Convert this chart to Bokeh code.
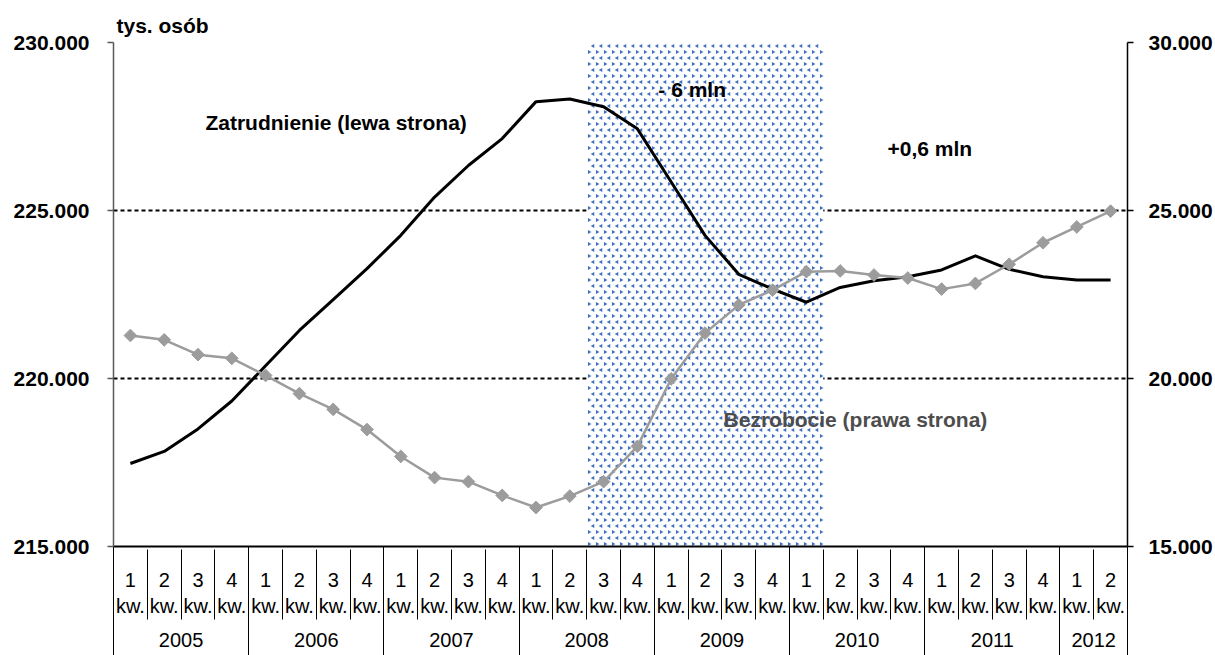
import numpy as np
from bokeh.plotting import figure
from bokeh.models import Range1d, LinearAxis, FixedTicker, Grid
from bokeh.core.properties import value
from bokeh.embed import file_html
from bokeh.resources import INLINE

# --- data -------------------------------------------------------------
years = ["2005", "2006", "2007", "2008", "2009", "2010", "2011", "2012"]
quarters_per_year = [4, 4, 4, 4, 4, 4, 4, 2]
quarter_labels = ["1\nkw.", "2\nkw.", "3\nkw.", "4\nkw."] * 7 + ["1\nkw.", "2\nkw."]

# employment, thousands of persons (left axis)
employment = [217470, 217830, 218500, 219330, 220380, 221430, 222350, 223270,
              224260, 225400, 226340, 227140, 228240, 228320, 228090, 227430,
              225850, 224260, 223100, 222660, 222270, 222710, 222910, 223030,
              223230, 223650, 223250, 223030, 222930, 222930]

# unemployment, thousands of persons (right axis)
unemployment = [21280, 21150, 20710, 20600, 20090, 19550, 19080, 18480,
                17680, 17050, 16930, 16520, 16160, 16500, 16930, 17980,
                19990, 21350, 22190, 22630, 23180, 23200, 23080, 22990,
                22660, 22830, 23400, 24040, 24510, 24980]

# crisis period: 2008 Q3 .. 2010 Q1 (quarter indices)
crisis_first, crisis_last = 14, 20

left_ticks = [215000, 220000, 225000, 230000]
left_tick_labels = ["215.000", "220.000", "225.000", "230.000"]
right_ticks = [15000, 20000, 25000, 30000]
right_tick_labels = ["15.000", "20.000", "25.000", "30.000"]

# --- layout ------------------------------------------------------------
W, H = 1215, 655
BORDER_L, BORDER_R, BORDER_T, BORDER_B = 113, 88, 42, 109
FRAME_W = W - BORDER_L - BORDER_R
FRAME_H = H - BORDER_T - BORDER_B

n = len(quarter_labels)
x = np.arange(n) + 0.5
q_bounds = [float(b) for b in range(n + 1)]
year_bounds = [float(b) for b in np.concatenate([[0], np.cumsum(quarters_per_year)])]
year_centers = [(a + b) / 2 for a, b in zip(year_bounds[:-1], year_bounds[1:])]

FONT = "Liberation Sans"

p = figure(width=W, height=H,
           x_range=Range1d(0, n), y_range=Range1d(left_ticks[0], left_ticks[-1]),
           x_axis_location=None, y_axis_location=None,
           output_backend="svg", toolbar_location=None,
           min_border_left=BORDER_L, min_border_right=BORDER_R,
           min_border_top=BORDER_T, min_border_bottom=BORDER_B)
p.extra_y_ranges = {"unemp": Range1d(right_ticks[0], right_ticks[-1])}
p.outline_line_color = None
p.background_fill_color = "white"
p.border_fill_color = "white"
for g in p.grid:
    g.visible = False

# unit label
p.title.text = "tys. osób"
p.title.text_font = FONT
p.title.text_font_size = "21px"
p.title.text_font_style = "bold"
p.title.text_color = "black"
p.title.align = "left"
p.title.offset = 3
p.title.standoff = 11

# --- value axes -------------------------------------------------------
def value_axis(ticks, labels, color, standoff, **kw):
    return LinearAxis(
        ticker=FixedTicker(ticks=ticks),
        major_label_overrides=dict(zip(ticks, labels)),
        major_tick_out=6, major_tick_in=0,
        minor_tick_out=0, minor_tick_in=0, minor_tick_line_color=None,
        axis_line_color=color, axis_line_width=1.5,
        major_tick_line_color=color, major_tick_line_width=1.5,
        major_label_standoff=standoff,
        major_label_text_font=FONT, major_label_text_font_size="21px",
        major_label_text_font_style="bold", major_label_text_color="black",
        **kw)

p.add_layout(value_axis(left_ticks, left_tick_labels, "#595959", 18), "left")
p.add_layout(value_axis(right_ticks, right_tick_labels, "black", 15,
                        y_range_name="unemp"), "right")

# --- two-level category axis -----------------------------------------
Q_STANDOFF, Q_LABEL_H = 22, 48      # quarter row: standoff + two text lines
Y_STANDOFF, Y_LABEL_H = 13, 20      # year row
Q_ROW = Q_STANDOFF + Q_LABEL_H
Y_ROW = Y_STANDOFF + Y_LABEL_H

quarter_axis = LinearAxis(
    ticker=FixedTicker(ticks=list(x), minor_ticks=[]),
    major_label_overrides={float(c): lbl for c, lbl in zip(x, quarter_labels)},
    major_tick_out=0, major_tick_in=0, major_tick_line_color=None,
    minor_tick_out=0, minor_tick_in=0, minor_tick_line_color=None,
    axis_line_color="black", axis_line_width=2,
    major_label_standoff=Q_STANDOFF,
    major_label_text_font=FONT, major_label_text_font_size="20px",
    major_label_text_color="black")
p.add_layout(quarter_axis, "below")

# year row; its minor ticks reach up and separate the quarters
year_axis = LinearAxis(
    ticker=FixedTicker(ticks=year_centers, minor_ticks=q_bounds),
    major_label_overrides={float(c): y for c, y in zip(year_centers, years)},
    major_tick_out=0, major_tick_in=0, major_tick_line_color=None,
    minor_tick_in=Q_ROW, minor_tick_out=0,
    minor_tick_line_color="black", minor_tick_line_width=1,
    axis_line_color=None,
    major_label_standoff=Y_STANDOFF,
    major_label_text_font=FONT, major_label_text_font_size="20px",
    major_label_text_color="black")
p.add_layout(year_axis, "below")

# full-height separators between years
year_sep_axis = LinearAxis(
    ticker=FixedTicker(ticks=[], minor_ticks=year_bounds),
    major_tick_out=0, major_tick_in=0, major_tick_line_color=None,
    minor_tick_in=Q_ROW + Y_ROW, minor_tick_out=BORDER_B - Q_ROW - Y_ROW,
    minor_tick_line_color="black", minor_tick_line_width=1,
    axis_line_color=None, major_label_standoff=0,
    major_label_text_font_size="0px")
p.add_layout(year_sep_axis, "below")

# --- grid -------------------------------------------------------------
p.add_layout(Grid(dimension=1, ticker=FixedTicker(ticks=left_ticks[1:3]),
                  grid_line_color="black", grid_line_width=2,
                  grid_line_dash="4 3"))
p.add_layout(Grid(dimension=1, ticker=FixedTicker(ticks=left_ticks[3:]),
                  grid_line_color="#707070", grid_line_width=1.5,
                  grid_line_dash="4 3"))

# --- crisis band: white box with a small blue confetti texture ---------
band_l, band_r = crisis_first, crisis_last + 1
band_b, band_t = left_ticks[0], left_ticks[-1]
p.quad(left=[band_l], right=[band_r], bottom=[band_b], top=[band_t],
       fill_color="white", line_color=None)

step_x = 8 * n / FRAME_W                         # 8 px across
step_y = 6 * (band_t - band_b) / FRAME_H         # 6 px down
cols = np.arange(band_l + step_x * 0.3, band_r, step_x)
rows = np.arange(band_b + step_y * 0.4, band_t, step_y)
tex_x, tex_y, tex_a = [], [], []
for r, yy in enumerate(rows):
    xs = cols + (step_x / 2 if r % 2 else 0.0)
    xs = xs[xs < band_r]
    tex_x.extend(xs)
    tex_y.extend([yy] * len(xs))
    tex_a.extend([np.pi / 2 if r % 2 else -np.pi / 2] * len(xs))
p.scatter(tex_x, tex_y, marker="triangle", angle=tex_a, size=4,
          fill_color="#3f6fc0", line_color=None)

# --- series -----------------------------------------------------------
p.line(x, employment, line_color="black", line_width=3, line_join="round")
p.line(x, unemployment, y_range_name="unemp",
       line_color="#9c9c9c", line_width=2.5, line_join="round")
p.scatter(x, unemployment, y_range_name="unemp", marker="square",
          angle=np.pi / 4, size=9, fill_color="#9c9c9c", line_color="#9c9c9c")

# --- annotations ------------------------------------------------------
def note(xv, yv, txt, color="black"):
    p.text(x=[xv], y=[yv], text=[txt],
           text_font=value(FONT), text_font_size="21px",
           text_font_style="bold", text_color=color,
           text_align="left", text_baseline="middle")

note(2.72, 227620, "Zatrudnienie (lewa strona)")
note(16.12, 228600, "- 6 mln")
note(22.90, 226850, "+0,6 mln")
note(18.05, 218780, "Bezrobocie (prawa strona)", color="#4d4d4d")

open("out.html", "w").write(file_html(p, INLINE))
